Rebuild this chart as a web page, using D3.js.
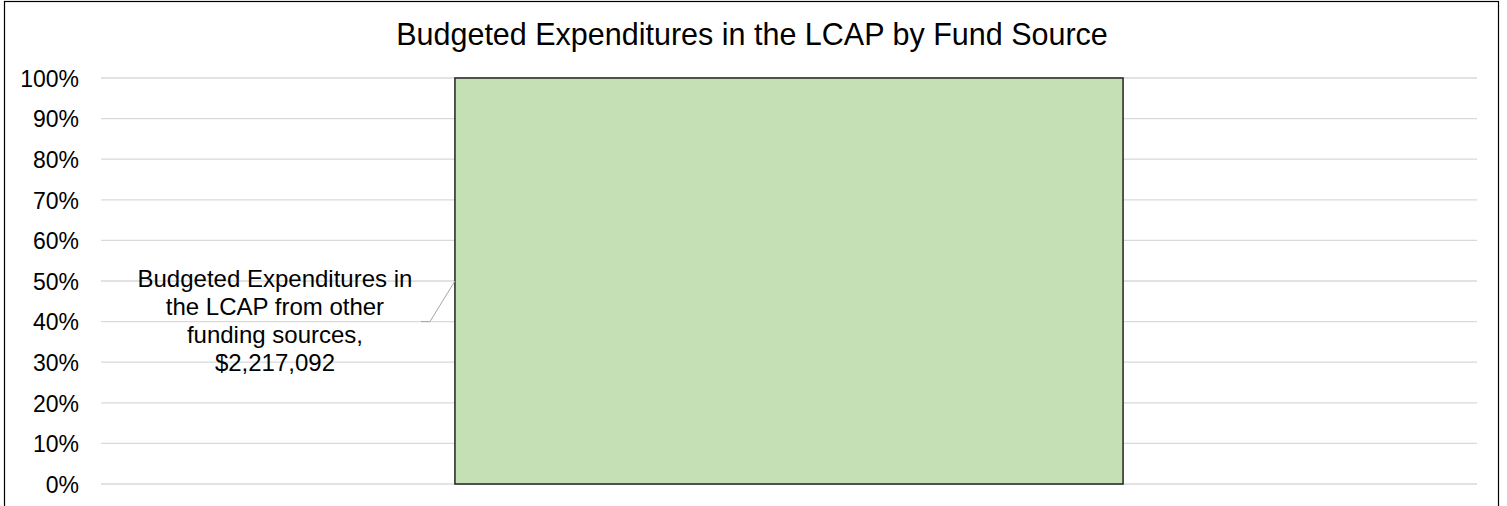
<!DOCTYPE html>
<html lang="en">
<head>
    <meta charset="UTF-8">
    <title>Budgeted Expenditures in the LCAP by Fund Source</title>
    <style>
        body { margin: 0; background: #fff; }
        svg { display: block; font-family: "Liberation Sans", Arial, sans-serif; }
    </style>
</head>
<body>
<svg></svg>
<script src="https://cdn.jsdelivr.net/npm/d3@7/dist/d3.min.js"></script>
<script>
    // data
    var categories = ["Budgeted Expenditures in the LCAP"];
    var seriesNames = ["Budgeted Expenditures in the LCAP from other funding sources"];
    var seriesValues = [2217092];
    var yTicks = [0, 0.1, 0.2, 0.3, 0.4, 0.5, 0.6, 0.7, 0.8, 0.9, 1];

    var width = 1507, height = 506;
    var margin = {top: 78, right: 30, bottom: 22, left: 101};
    var plotW = 1477 - margin.left;
    var plotH = 484 - margin.top;

    var svg = d3.select("svg").attr("width", width).attr("height", height);

    // chart border
    svg.append("rect")
        .attr("x", 4.5).attr("y", 1.5)
        .attr("width", 1494).attr("height", 520)
        .attr("fill", "none").attr("stroke", "#000").attr("stroke-width", 1.2);

    svg.append("text")
        .attr("x", 752).attr("y", 45)
        .attr("text-anchor", "middle")
        .style("font-size", "30.5px")
        .text("Budgeted Expenditures in the LCAP by Fund Source");

    var g = svg.append("g").attr("transform", "translate(" + margin.left + "," + margin.top + ")");

    var total = d3.sum(seriesValues);
    var x = d3.scaleBand().domain(categories).range([0, plotW]).padding(0.3463);
    var y = d3.scaleLinear().domain([0, 1]).range([plotH, 0]);

    // gridlines
    g.selectAll(".grid").data(yTicks).enter().append("line")
        .attr("x1", 0).attr("x2", plotW)
        .attr("y1", function (d) { return y(d); })
        .attr("y2", function (d) { return y(d); })
        .attr("stroke", "#d9d9d9").attr("stroke-width", 1.3);

    // y axis labels
    var yAxis = d3.axisLeft(y).tickValues(yTicks).tickSize(0).tickPadding(22)
        .tickFormat(d3.format(".0%"));
    var ya = g.append("g").call(yAxis);
    ya.select(".domain").remove();
    ya.selectAll("text").style("font-size", "23px").style("font-family", "Liberation Sans, Arial, sans-serif")
        .attr("dy", "0.36em").attr("fill", "#000");

    // stacked 100% bars
    var stackData = [{}];
    stackData[0].cat = categories[0];
    seriesNames.forEach(function (s, i) { stackData[0][s] = seriesValues[i] / total; });
    var stack = d3.stack().keys(seriesNames)(stackData);

    g.selectAll(".bar").data(stack).enter().append("rect")
        .attr("x", function (d) { return x(d[0].data.cat); })
        .attr("y", function (d) { return y(d[0][1]); })
        .attr("width", x.bandwidth())
        .attr("height", function (d) { return y(d[0][0]) - y(d[0][1]); })
        .attr("fill", "#c5e0b4")
        .attr("stroke", "#222").attr("stroke-width", 1.5);

    // data label with leader line
    var labelLines = ["Budgeted Expenditures in", "the LCAP from other", "funding sources,",
        "$" + d3.format(",")(seriesValues[0])];
    var barLeft = x(categories[0]);
    var anchorY = y(0.5);
    var lx = barLeft - 180, ly = anchorY + 6;

    g.append("polyline")
        .attr("points", [[barLeft - 34, y(0.4)], [barLeft - 25, y(0.4)], [barLeft, anchorY]].join(" "))
        .attr("fill", "none").attr("stroke", "#a6a6a6").attr("stroke-width", 1);

    g.append("text")
        .attr("text-anchor", "middle")
        .style("font-size", "24px")
        .selectAll("tspan").data(labelLines).enter().append("tspan")
        .attr("x", lx)
        .attr("y", function (d, i) { return ly + i * 28; })
        .text(function (d) { return d; });
</script>
</body>
</html>
